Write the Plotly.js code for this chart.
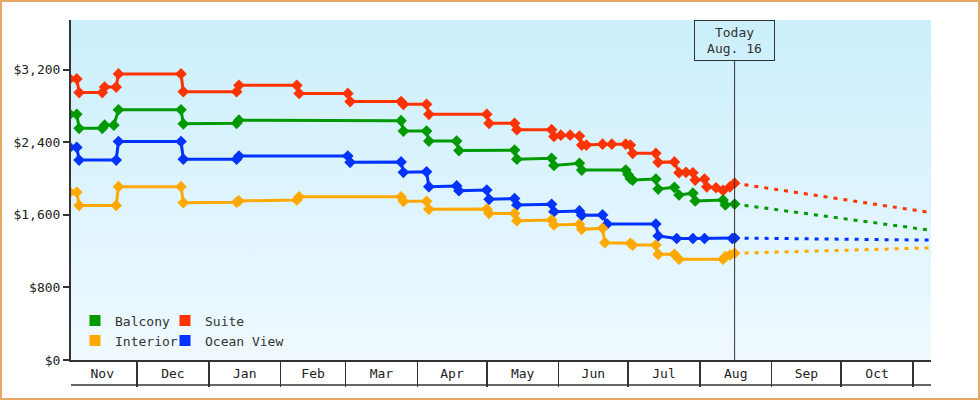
<!DOCTYPE html>
<html>
<head>
<meta charset="utf-8">
<script src="https://cdn.plot.ly/plotly-3.0.1.min.js"></script>
<style>
  html, body { margin: 0; padding: 0; background: #ffffff; }
  #wrap { position: relative; width: 980px; height: 400px; overflow: hidden; }
  #plot-bg {
    position: absolute; left: 71px; top: 20px; width: 860px; height: 340px;
    background: linear-gradient(to bottom, #cbeffc, #eff9ff);
  }
  #chart { position: absolute; left: 0; top: 0; width: 980px; height: 400px; }
  #frame {
    position: absolute; left: 0; top: 0; width: 980px; height: 400px;
    box-sizing: border-box; border: 2px solid #e8a965; pointer-events: none;
  }
</style>
</head>
<body>
<div id="wrap">
  <div id="plot-bg"></div>
  <div id="chart"></div>
  <div id="frame"></div>
</div>
<script>
const FONT = '"DejaVu Sans Mono", "Liberation Mono", monospace';
const INK = "#333333";

const X_START = "2012-11-02 12:00";
const X_END = "2013-11-08 19:00";
const TODAY = "2013-08-16";
const Y_TICKS = [0, 800, 1600, 2400, 3200];

const suiteDates = [
  "2012-11-02", "2012-11-05", "2012-11-06", "2012-11-16", "2012-11-17", "2012-11-22", "2012-11-23", "2012-12-20",
  "2012-12-21", "2013-01-13", "2013-01-14", "2013-02-08", "2013-02-09", "2013-03-02", "2013-03-03", "2013-03-25",
  "2013-03-26", "2013-04-05", "2013-04-06", "2013-05-01", "2013-05-02", "2013-05-13", "2013-05-14", "2013-05-29",
  "2013-05-30", "2013-06-02", "2013-06-06", "2013-06-10", "2013-06-11", "2013-06-13", "2013-06-20", "2013-06-24",
  "2013-06-30", "2013-07-02", "2013-07-03", "2013-07-13", "2013-07-14", "2013-07-21", "2013-07-23", "2013-07-26",
  "2013-07-29", "2013-07-30", "2013-08-03", "2013-08-04", "2013-08-08", "2013-08-11", "2013-08-14", "2013-08-16",
];
const suitePrices = [
  3100, 3100, 2950, 2950, 3010, 3010, 3155, 3155,
  2960, 2960, 3030, 3030, 2940, 2940, 2850, 2850,
  2820, 2820, 2710, 2710, 2610, 2610, 2540, 2540,
  2465, 2480, 2480, 2470, 2370, 2370, 2380, 2380,
  2380, 2370, 2280, 2280, 2180, 2185, 2065, 2070,
  2065, 1985, 1995, 1910, 1900, 1870, 1910, 1950,
];

const balconyDates = [
  "2012-11-02", "2012-11-05", "2012-11-06", "2012-11-16", "2012-11-17", "2012-11-21", "2012-11-23", "2012-12-20",
  "2012-12-21", "2013-01-13", "2013-01-14", "2013-03-25", "2013-03-26", "2013-04-05", "2013-04-06", "2013-04-18",
  "2013-04-19", "2013-05-13", "2013-05-14", "2013-05-29", "2013-05-30", "2013-06-10", "2013-06-11", "2013-06-30",
  "2013-07-01", "2013-07-02", "2013-07-03", "2013-07-13", "2013-07-14", "2013-07-21", "2013-07-23", "2013-07-29",
  "2013-07-30", "2013-08-11", "2013-08-12", "2013-08-16",
];
const balconyPrices = [
  2710, 2710, 2555, 2555, 2590, 2590, 2760, 2760,
  2605, 2610, 2645, 2640, 2525, 2525, 2415, 2415,
  2310, 2315, 2215, 2225, 2145, 2170, 2095, 2095,
  2045, 2000, 1985, 1995, 1885, 1905, 1820, 1840,
  1755, 1765, 1710, 1720,
];

const oceanDates = [
  "2012-11-02", "2012-11-05", "2012-11-06", "2012-11-22", "2012-11-23", "2012-12-20", "2012-12-21", "2013-01-13",
  "2013-01-14", "2013-03-02", "2013-03-03", "2013-03-25", "2013-03-26", "2013-04-05", "2013-04-06", "2013-04-18",
  "2013-04-19", "2013-05-01", "2013-05-02", "2013-05-13", "2013-05-14", "2013-05-29", "2013-05-30", "2013-06-10",
  "2013-06-11", "2013-06-20", "2013-06-22", "2013-07-13", "2013-07-14", "2013-07-22", "2013-07-29", "2013-08-03",
  "2013-08-15", "2013-08-16",
];
const oceanPrices = [
  2345, 2345, 2205, 2205, 2410, 2410, 2215, 2215,
  2250, 2250, 2180, 2185, 2070, 2075, 1912, 1920,
  1867, 1875, 1772, 1780, 1710, 1718, 1636, 1644,
  1596, 1600, 1500, 1500, 1368, 1340, 1340, 1340,
  1340, 1345,
];

const interiorDates = [
  "2012-11-02", "2012-11-05", "2012-11-06", "2012-11-22", "2012-11-23", "2012-12-20", "2012-12-21", "2013-01-13",
  "2013-01-14", "2013-02-08", "2013-02-09", "2013-03-25", "2013-03-26", "2013-04-05", "2013-04-06", "2013-05-01",
  "2013-05-02", "2013-05-13", "2013-05-14", "2013-05-29", "2013-05-30", "2013-06-10", "2013-06-11", "2013-06-20",
  "2013-06-21", "2013-07-02", "2013-07-03", "2013-07-13", "2013-07-14", "2013-07-21", "2013-07-23", "2013-08-11",
  "2013-08-12", "2013-08-14", "2013-08-16",
];
const interiorPrices = [
  1850, 1850, 1705, 1705, 1912, 1912, 1735, 1740,
  1755, 1765, 1800, 1800, 1750, 1750, 1662, 1665,
  1617, 1617, 1537, 1545, 1490, 1497, 1441, 1452,
  1294, 1287, 1268, 1268, 1165, 1165, 1111, 1111,
  1140, 1158, 1177,
];

// forecast from today to the end of the axis
const projDates = ["2013-08-16", "2013-11-09"];
const suiteProj = [1950, 1625];
const balconyProj = [1720, 1430];
const oceanProj = [1345, 1322];
const interiorProj = [1177, 1237];

const COLORS = {
  balcony: "#009900",
  suite: "#ff3300",
  interior: "#ffa800",
  ocean: "#0033ff",
};

function seriesTrace(name, dates, prices, color) {
  return {
    type: "scatter",
    mode: "lines+markers",
    name,
    x: dates,
    y: prices,
    line: { color, width: 3 },
    marker: { color, symbol: "diamond", size: 9 },
    showlegend: false,
    hoverinfo: "skip",
  };
}

function projectionTrace(values, color) {
  return {
    type: "scatter",
    mode: "lines",
    x: projDates,
    y: values,
    line: { color, width: 3, dash: "4px,6px" },
    showlegend: false,
    hoverinfo: "skip",
  };
}

function legendTrace(name, color, legendId) {
  return {
    type: "scatter",
    mode: "markers",
    name,
    x: [null],
    y: [null],
    marker: { color, symbol: "square", size: 11 },
    legend: legendId,
    showlegend: true,
  };
}

const traces = [
  projectionTrace(suiteProj, COLORS.suite),
  projectionTrace(balconyProj, COLORS.balcony),
  projectionTrace(oceanProj, COLORS.ocean),
  projectionTrace(interiorProj, COLORS.interior),
  seriesTrace("Suite", suiteDates, suitePrices, COLORS.suite),
  seriesTrace("Balcony", balconyDates, balconyPrices, COLORS.balcony),
  seriesTrace("Ocean View", oceanDates, oceanPrices, COLORS.ocean),
  seriesTrace("Interior", interiorDates, interiorPrices, COLORS.interior),
  legendTrace("Balcony", COLORS.balcony, "legend"),
  legendTrace("Suite", COLORS.suite, "legend2"),
  legendTrace("Interior", COLORS.interior, "legend3"),
  legendTrace("Ocean View", COLORS.ocean, "legend4"),
];

// one legend per entry, placed as a 2x2 block inside the plot area (71..931 x 20..360 px)
function legendAt(px, py) {
  return {
    xref: "paper",
    yref: "paper",
    x: (px - 71) / 860,
    y: (360 - py) / 340,
    xanchor: "left",
    yanchor: "middle",
    bgcolor: "rgba(0,0,0,0)",
    borderwidth: 0,
    itemsizing: "trace",
    font: { family: FONT, size: 13, color: INK },
  };
}

const layout = {
  width: 980,
  height: 400,
  margin: { l: 71, r: 49, t: 20, b: 40 },
  paper_bgcolor: "rgba(0,0,0,0)",
  plot_bgcolor: "rgba(0,0,0,0)",
  font: { family: FONT, size: 13, color: INK },
  xaxis: {
    type: "date",
    range: [X_START, X_END],
    showgrid: false,
    zeroline: false,
    showline: true,
    linecolor: INK,
    linewidth: 2,
    ticks: "outside",
    ticklen: 25,
    tickwidth: 1.5,
    tickcolor: INK,
    dtick: "M1",
    tick0: "2012-11-01",
    tickformat: "%b",
    ticklabelmode: "period",
    ticklabelstandoff: -25,
    tickfont: { family: FONT, size: 13, color: "#222" },
  },
  yaxis: {
    range: [0, 3750],
    tickvals: Y_TICKS,
    tickformat: "$,.0f",
    showgrid: false,
    zeroline: false,
    showline: true,
    linecolor: INK,
    linewidth: 2,
    ticks: "outside",
    ticklen: 6,
    tickwidth: 2,
    tickcolor: INK,
    tickfont: { family: FONT, size: 13, color: "#222" },
  },
  legend: legendAt(75, 320.5),
  legend2: legendAt(165, 320.5),
  legend3: legendAt(75, 340.5),
  legend4: legendAt(165, 340.5),
  shapes: [
    {
      type: "line",
      xref: "x",
      yref: "paper",
      x0: TODAY,
      x1: TODAY,
      y0: 0,
      y1: 300 / 340,
      line: { color: INK, width: 1 },
    },
    {
      type: "line",
      xref: "paper",
      yref: "paper",
      x0: 0,
      x1: 1,
      y0: -25 / 340,
      y1: -25 / 340,
      line: { color: INK, width: 1.5 },
    },
  ],
  annotations: [
    {
      xref: "x",
      yref: "paper",
      x: TODAY,
      y: 1,
      xanchor: "center",
      yanchor: "top",
      text: "Today<br>Aug. 16",
      showarrow: false,
      width: 71,
      height: 31,
      borderpad: 4,
      borderwidth: 1,
      bordercolor: INK,
      font: { family: FONT, size: 13, color: INK },
    },
  ],
};

Plotly.newPlot("chart", traces, layout, { displayModeBar: false, staticPlot: true });
</script>
</body>
</html>
